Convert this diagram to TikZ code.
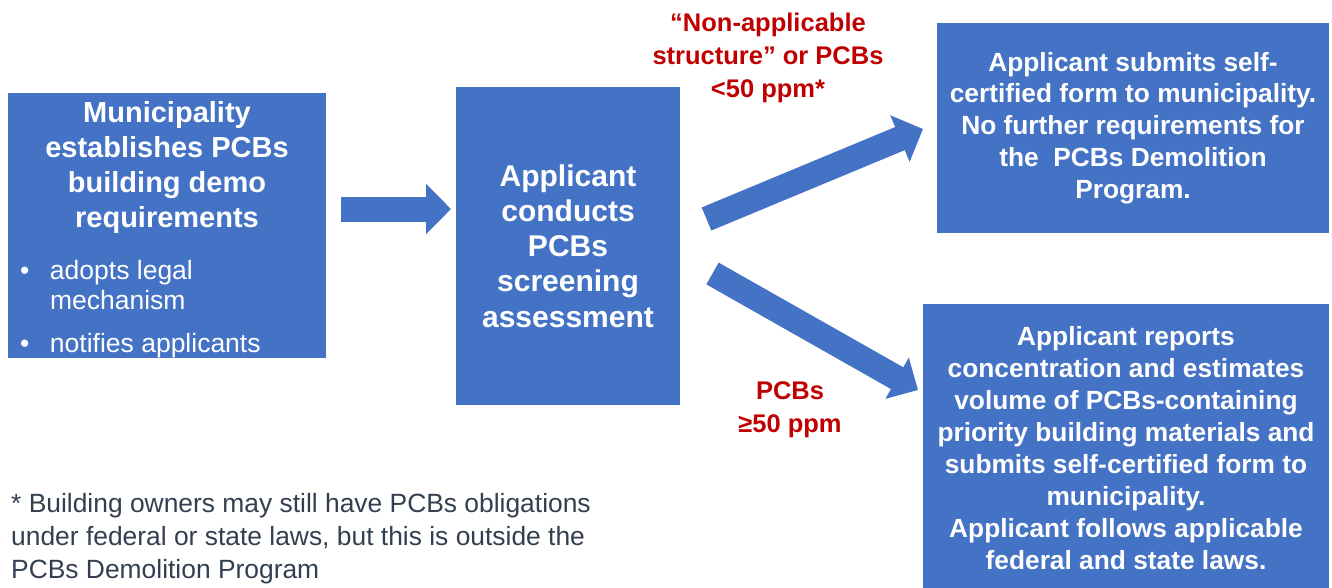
\documentclass[tikz,border=0pt]{standalone}
\usepackage{fontspec}
\setmainfont{Liberation Sans}
\usetikzlibrary{arrows.meta, positioning}

\definecolor{boxblue}{HTML}{4472C4}
\definecolor{condred}{HTML}{C00000}
\definecolor{notegray}{HTML}{333F50}

% bullet line with hanging indent
\newcommand{\bitem}[1]{\noindent\hangindent=33pt\hangafter=1
  \makebox[33pt][l]{\hspace*{3pt}\textbullet}#1\par}

\begin{document}
\begin{tikzpicture}[
  x=1pt, y=-1pt,
  box/.style = {fill=boxblue, text=white, font=\bfseries, align=center, inner sep=0pt},
  flow/.style = {boxblue, line width=25pt, -{Triangle[length=25pt, width=49pt]}},
  cond/.style = {text=condred, align=center, inner sep=0pt,
                 font=\bfseries\fontsize{25.5}{33}\selectfont},
  note/.style = {text=notegray, align=left, inner sep=0pt,
                 font=\fontsize{26.4}{33}\selectfont}
]
  \useasboundingbox (0,0) rectangle (1332,588);

  % Municipality block
  \node[box, minimum width=318pt, minimum height=265pt] (muni) at (167,225.5) {%
    \begin{minipage}{300pt}
      \vspace*{9pt}
      {\centering\fontsize{29}{35}\selectfont
       Municipality\\ establishes PCBs\\ building demo\\ requirements\par}
      \vspace{22pt}
      {\mdseries\fontsize{26.5}{30}\selectfont
       \bitem{adopts legal\newline mechanism}
       \vspace{13pt}
       \bitem{notifies applicants}}
    \end{minipage}};

  % Screening block
  \node[box, minimum width=224pt, minimum height=318pt,
        font=\bfseries\fontsize{30}{35.25}\selectfont] (screen) at (568,246)
    {Applicant\\ conducts\\ PCBs\\ screening\\ assessment};

  % Outcome blocks
  \node[box, minimum width=392pt, minimum height=210pt,
        font=\bfseries\fontsize{26.3}{31.75}\selectfont] (low) at (1133,128)
    {Applicant submits self-\\ certified form to municipality.\\
     No further requirements for\\ the\ \ PCBs Demolition\\ Program.};
  \node[box, minimum width=406pt, minimum height=288pt,
        font=\bfseries\fontsize{26.3}{31.9}\selectfont] (high) at (1126,448)
    {Applicant reports\\ concentration and estimates\\ volume of PCBs-containing\\
     priority building materials and\\ submits self-certified form to\\
     municipality.\\ Applicant follows applicable\\ federal and state laws.};

  % Arrow ends
  \coordinate (in-s) at (341,209);
  \coordinate (in-e) at (451,209);
  \coordinate (up-s) at (706.5,219);
  \coordinate (up-e) at (923,129);
  \coordinate (dn-s) at (712.5,273.5);
  \coordinate (dn-e) at (918,390);

  \draw[flow] (in-s) -- (in-e);
  \draw[flow] (up-s) -- (up-e);
  \draw[flow, -{Triangle[length=24pt, width=46pt]}] (dn-s) -- (dn-e);

  % Condition labels
  \node[cond, anchor=north] (lowcond) at (768,13)
    {“Non-applicable\\ structure” or PCBs\\ <50 ppm*};
  \node[cond, anchor=north] (highcond) at (790,381)
    {PCBs\\ ≥50 ppm};

  % Footnote
  \node[note, anchor=north west] (foot) at (11,493)
    {* Building owners may still have PCBs obligations\\
     under federal or state laws, but this is outside the\\
     PCBs Demolition Program};
\end{tikzpicture}
\end{document}
